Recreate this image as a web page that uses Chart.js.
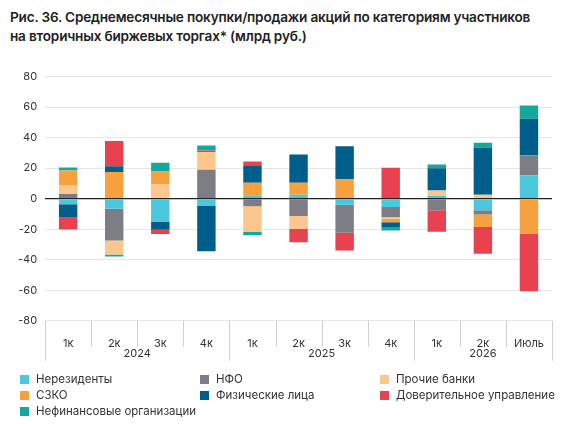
<!DOCTYPE html>
<html>
<head>
<meta charset="utf-8">
<script src="https://cdn.jsdelivr.net/npm/chart.js@4"></script>
<style>
  body { margin: 0; width: 565px; height: 424px; font-family: Inter, 'Noto Sans', sans-serif; background: #fff; overflow: hidden; }
  #title { position: absolute; left: 10px; top: 8px; font-size: 13.6px; font-weight: 600; color: #222; line-height: 19px; letter-spacing: -0.2px; white-space: nowrap; }
  #wrap { position: absolute; left: 0; top: 62px; width: 560px; height: 316px; }
  #legend { position: absolute; left: 20px; top: 371px; font-size: 11.5px; color: #333; display: grid; grid-template-columns: 180px 180px 200px; row-gap: 0px; }
  #legend div { display: flex; align-items: center; height: 16px; }
  #legend span { width: 9px; height: 9px; margin-right: 7px; display: inline-block; }
</style>
</head>
<body>
<div id="wrap"><canvas id="c"></canvas></div>
<div id="title">Рис. 36. Среднемесячные покупки/продажи акций по категориям участников<br>на вторичных биржевых торгах* (млрд руб.)</div>
<div id="legend"></div>
<script>
const quarters = ['1к', '2к', '3к', '4к', '1к', '2к', '3к', '4к', '1к', '2к', 'Июль'];
const years = [['2024', 0, 3], ['2025', 4, 7], ['2026', 8, 10]];
const yTicks = [-80, -60, -40, -20, 0, 20, 40, 60, 80];

const seriesNames = ['Нерезиденты', 'НФО', 'Прочие банки', 'СЗКО', 'Физические лица', 'Доверительное управление', 'Нефинансовые организации'];
const seriesColors = ['#4cc8dc', '#7d7e85', '#fcc68c', '#f7a03e', '#005f8a', '#e8414f', '#14a89c'];

const nonresidents = [-3.7, -6.6, -15.3, -4.4, 2.2, 2.6, -3.9, -5.5, 1.7, -7.6, 15.3];
const nfo =          [3, -20.8, 0, 19, -5, -11.4, -18.4, -6.6, -7.6, -2.8, 13.1];
const otherBanks =   [6, -9.2, 9.4, 11.6, -16.8, -8.5, 0, -1, 3.7, 2.6, 0];
const szko =         [9.4, 17.5, 8.5, 0, 8.3, 7.9, 12.7, -2.4, 0, -8.1, -23];
const individuals =  [-8.3, 3.7, -5, -30, 10.9, 18.4, 21.6, -3, 14.6, 30.8, 24];
const trust =        [-8.1, 16.6, -2.8, 1, 3, -8.7, -11.6, 20.3, -14, -17.5, -37.6];
const nonfinancial = [2, -1.3, 5.7, 3.3, -2.2, 0, 0, -2.4, 2.4, 3.3, 8.7];
const seriesData = [nonresidents, nfo, otherBanks, szko, individuals, trust, nonfinancial];

document.getElementById('legend').innerHTML = seriesNames.map((n, i) =>
  `<div><span style="background:${seriesColors[i]}"></span>${n}</div>`).join('');

const groupAxis = {
  id: 'groupAxis',
  afterDraw(chart) {
    const { ctx, scales: { x }, chartArea } = chart;
    const bottom = chartArea.bottom;
    const half = (x.getPixelForValue(1) - x.getPixelForValue(0)) / 2;
    ctx.save();
    ctx.strokeStyle = '#cfcfcf';
    ctx.lineWidth = 1;
    for (let i = 0; i <= quarters.length; i++) {
      const px = Math.round(x.getPixelForValue(i) - half) + 0.5;
      const yearEdge = i === 0 || i === quarters.length || years.some(y => y[1] === i);
      ctx.beginPath();
      ctx.moveTo(px, bottom);
      ctx.lineTo(px, bottom + (yearEdge ? 40 : 26));
      ctx.stroke();
    }
    ctx.fillStyle = '#333';
    ctx.font = '11px Inter, "Noto Sans", sans-serif';
    ctx.textAlign = 'center';
    ctx.textBaseline = 'middle';
    years.forEach(([label, a, b]) => {
      ctx.fillText(label, (x.getPixelForValue(a) + x.getPixelForValue(b)) / 2, bottom + 33);
    });
    ctx.restore();
  }
};

new Chart(document.getElementById('c'), {
  type: 'bar',
  data: {
    labels: quarters,
    datasets: seriesData.map((d, i) => ({
      label: seriesNames[i],
      data: d,
      backgroundColor: seriesColors[i],
      borderWidth: 0,
      barPercentage: 0.8,
      categoryPercentage: 0.5
    }))
  },
  options: {
    responsive: true,
    maintainAspectRatio: false,
    animation: false,
    layout: { padding: { left: 10, right: 8, top: 8, bottom: 20 } },
    plugins: { legend: { display: false }, tooltip: { enabled: false } },
    scales: {
      x: {
        stacked: true,
        grid: { display: false },
        border: { display: false },
        ticks: { color: '#333', font: { size: 11, family: 'Inter' }, padding: 8 }
      },
      y: {
        stacked: true,
        min: -80,
        max: 80,
        afterBuildTicks: axis => { axis.ticks = yTicks.map(v => ({ value: v })); },
        ticks: { color: '#333', font: { size: 11, family: 'Inter' }, padding: 8 },
        border: { display: false },
        grid: {
          drawTicks: false,
          color: c => c.tick.value === 0 ? '#222' : '#e6e6e6',
          lineWidth: c => c.tick.value === 0 ? 1.2 : 1
        }
      }
    }
  },
  plugins: [groupAxis]
});
</script>
</body>
</html>
